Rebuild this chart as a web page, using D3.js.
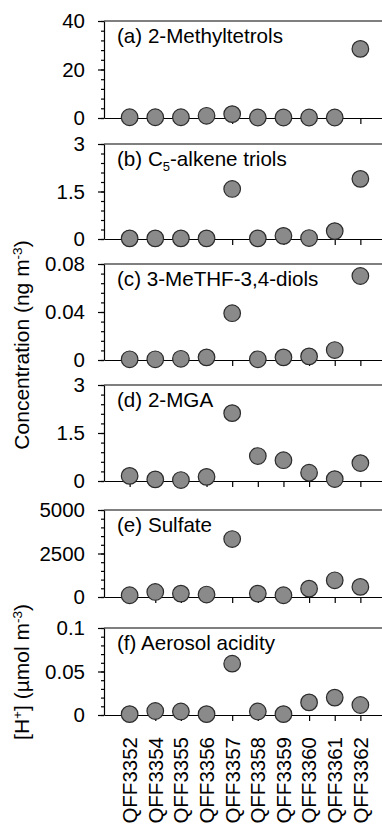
<!DOCTYPE html>
<html>
<head>
<meta charset="utf-8">
<script src="https://cdn.jsdelivr.net/npm/d3@7/dist/d3.min.js"></script>
<style>
	body { margin: 0; background: #fff; }
	text { font-family: "Liberation Sans", Arial, sans-serif; fill: #000; }
	.domain, .tick line { stroke: #000; stroke-width: 1.2; }
</style>
</head>
<body>
<div id="chart"></div>
<script>
// samples (x categories)
const samples = ['QFF3352', 'QFF3354', 'QFF3355', 'QFF3356', 'QFF3357', 'QFF3358', 'QFF3359', 'QFF3360', 'QFF3361', 'QFF3362'];

// values
const methyltetrols = [0.3, 0.3, 0.3, 0.9, 1.6, 0.2, 0.2, 0.2, 0.2, 28.5];
const alkeneTriols = [0.02, 0.02, 0.02, 0.02, 1.58, 0.02, 0.1, 0.03, 0.25, 1.9];
const meTHFdiols = [0.0006, 0.0006, 0.001, 0.0022, 0.039, 0.0006, 0.0022, 0.003, 0.0083, 0.07];
const mga = [0.16, 0.05, 0.03, 0.13, 2.12, 0.78, 0.65, 0.26, 0.06, 0.56];
const sulfate = [100, 290, 195, 140, 3330, 195, 100, 480, 960, 580];
const acidity = [0.001, 0.0046, 0.004, 0.001, 0.059, 0.004, 0.001, 0.0145, 0.02, 0.0115];

// axis ticks
const majorTicks = [[0, 20, 40], [0, 1.5, 3], [0, 0.04, 0.08], [0, 1.5, 3], [0, 2500, 5000], [0, 0.05, 0.1]];
const minorSteps = [4, 0.3, 0.008, 0.3, 500, 0.01];
const tickLabels = [['0', '20', '40'], ['0', '1.5', '3'], ['0', '0.04', '0.08'], ['0', '1.5', '3'], ['0', '2500', '5000'], ['0', '0.05', '0.1']];

const seriesList = [methyltetrols, alkeneTriols, meTHFdiols, mga, sulfate, acidity];

// layout (pixels) of each panel: top and zero line
const panelBox = [
	{ top: 21, bottom: 118 },
	{ top: 144, bottom: 239 },
	{ top: 264, bottom: 360 },
	{ top: 385, bottom: 481 },
	{ top: 510, bottom: 597 },
	{ top: 628, bottom: 715 }
];

const W = 382, H = 825;
const left = 104, right = 386;
const svg = d3.select('#chart').append('svg').attr('width', W).attr('height', H);

const x = d3.scalePoint().domain(samples).range([left, right]).padding(1);

function addTitle(g, i) {
	let t = g.append('text').attr('x', 117).attr('y', 22).style('font-size', '20.6px');
	if (i === 0) t.text('(a) 2-Methyltetrols');
	if (i === 1) {
		t.append('tspan').text('(b) C');
		t.append('tspan').text('5').attr('dy', 5).style('font-size', '13px');
		t.append('tspan').text('-alkene triols').attr('dy', -5);
	}
	if (i === 2) t.text('(c) 3-MeTHF-3,4-diols');
	if (i === 3) t.text('(d) 2-MGA');
	if (i === 4) t.text('(e) Sulfate');
	if (i === 5) t.text('(f) Aerosol acidity');
}

seriesList.forEach(function (vals, i) {
	let box = panelBox[i];
	let ticks = majorTicks[i];
	let yMax = ticks[ticks.length - 1];
	let y = d3.scaleLinear().domain([0, yMax]).range([box.bottom - box.top, 0]);
	let g = svg.append('g').attr('transform', `translate(0,${box.top})`);

	// top frame line
	g.append('line').attr('x1', left).attr('x2', right).attr('y1', 0).attr('y2', 0)
		.attr('stroke', '#000').attr('stroke-width', 1.2);

	// minor ticks
	let minor = d3.range(0, yMax + minorSteps[i] / 2, minorSteps[i]);
	g.append('g').attr('transform', `translate(${left},0)`)
		.call(d3.axisLeft(y).tickValues(minor).tickSize(3).tickSizeOuter(0).tickFormat(''))
		.select('.domain').remove();

	// major ticks + labels
	let yAxis = g.append('g').attr('transform', `translate(${left},0)`)
		.call(d3.axisLeft(y).tickValues(ticks).tickSize(6).tickSizeOuter(0)
			.tickFormat((d, k) => tickLabels[i][k]));
	yAxis.selectAll('text').attr('x', -19).style('font-size', '20.5px').attr('fill', '#000');

	// x axis on the zero line
	g.append('g').attr('transform', `translate(0,${y(0)})`)
		.call(d3.axisBottom(x).tickSize(6).tickSizeOuter(0).tickFormat(''));

	addTitle(g, i);

	g.append('g').selectAll('circle').data(vals).enter().append('circle')
		.attr('cx', (d, k) => x(samples[k]))
		.attr('cy', d => y(d))
		.attr('r', 8.3)
		.attr('fill', '#8a8a8a')
		.attr('stroke', '#2b2b2b')
		.attr('stroke-width', 1.2);
});

// sample names under the last panel
svg.append('g').selectAll('text').data(samples).enter().append('text')
	.attr('transform', d => `translate(${x(d)},737) rotate(-90)`)
	.attr('text-anchor', 'end')
	.attr('dy', '0.36em')
	.style('font-size', '20.5px')
	.text(d => d);

// y titles
let yt1 = svg.append('text').attr('transform', 'translate(21,345) rotate(-90)')
	.attr('text-anchor', 'middle').attr('dy', '0.36em').style('font-size', '21px');
yt1.append('tspan').text('Concentration (ng m');
yt1.append('tspan').text('-3').attr('dy', -7).style('font-size', '13.5px');
yt1.append('tspan').text(')').attr('dy', 7);

let yt2 = svg.append('text').attr('transform', 'translate(21,672) rotate(-90)')
	.attr('text-anchor', 'middle').attr('dy', '0.36em').style('font-size', '21px');
yt2.append('tspan').text('[H');
yt2.append('tspan').text('+').attr('dy', -7).style('font-size', '13.5px');
yt2.append('tspan').text('] (µmol m').attr('dy', 7);
yt2.append('tspan').text('-3').attr('dy', -7).style('font-size', '13.5px');
yt2.append('tspan').text(')').attr('dy', 7);
</script>
</body>
</html>
